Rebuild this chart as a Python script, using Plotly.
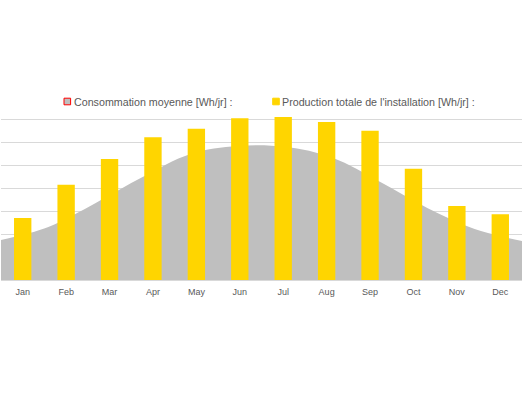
import plotly.graph_objects as go

months = ["Jan", "Feb", "Mar", "Apr", "May", "Jun", "Jul", "Aug", "Sep", "Oct", "Nov", "Dec"]
production = [2710, 4160, 5290, 6240, 6610, 7070, 7130, 6910, 6530, 4860, 3240, 2870]
consommation = [1750, 2320, 3370, 4510, 5510, 5860, 5820, 5340, 4290, 3150, 2230, 1710]
legend_names = ["Consommation moyenne [Wh/jr] :", "Production totale de l'installation [Wh/jr] :"]

GRID = "#D9D9D9"
TXT = "#595959"
GRAY = "#BFBFBF"
GOLD = "#FFD500"

fig = go.Figure()

fig.add_trace(go.Scatter(
    x=list(range(len(consommation))), y=consommation,
    mode="lines", line=dict(shape="spline", color=GRAY, width=0, smoothing=1.0),
    fill="tozeroy", fillcolor=GRAY,
    name=legend_names[0], showlegend=False,
    xaxis="x", yaxis="y", hoverinfo="skip"))

fig.add_trace(go.Bar(
    x=months, y=production, marker=dict(color=GOLD, line=dict(width=0)),
    name=legend_names[1], showlegend=False,
    xaxis="x2", yaxis="y"))

W, H = 526, 395
top, bottom, left, right = 97, 280, 1, 522
pw, ph = right - left, bottom - top

def px(x):
    return (x - left) / pw

def py(y):
    return (bottom - y) / ph

# legend drawn as shapes + text
leg_y = 101.5
sq = 3.3
legend_items = [
    (67.3, 72, GRAY, "#FF0000"),
    (276.0, 280, GOLD, GOLD),
]
for (cx, tx, fc, lc), name in zip(legend_items, legend_names):
    fig.add_shape(type="rect", xref="paper", yref="paper",
                  x0=px(cx - sq), x1=px(cx + sq), y0=py(leg_y + sq), y1=py(leg_y - sq),
                  fillcolor=fc, line=dict(color=lc, width=1))
    fig.add_annotation(xref="paper", yref="paper", x=px(tx), y=py(leg_y),
                       xanchor="left", yanchor="middle", showarrow=False,
                       text=name, font=dict(size=10.7, color=TXT))

fig.update_layout(
    width=W, height=H,
    margin=dict(l=left, r=W - right, t=top, b=H - bottom, pad=0, autoexpand=False),
    paper_bgcolor="white", plot_bgcolor="white",
    font=dict(family="Liberation Sans", color=TXT, size=11),
    bargap=0.6,
    showlegend=False,
    xaxis=dict(range=[0, len(consommation) - 1], visible=False, fixedrange=True),
    xaxis2=dict(overlaying="x", anchor="y", side="bottom", type="category",
                range=[-0.5, len(months) - 0.5], showgrid=False, showline=False,
                ticks="", tickfont=dict(size=9, color=TXT), ticklabelstandoff=5,
                automargin=False),
    yaxis=dict(range=[0, 8000], tickvals=list(range(0, 8000, 1000)), showticklabels=False,
               showgrid=True, gridcolor=GRID, gridwidth=1, automargin=False,
               zeroline=True, zerolinecolor=GRID, zerolinewidth=1),
)

fig.write_html("out.html", config={"displayModeBar": False},
               post_script="document.body.style.margin='0';")
